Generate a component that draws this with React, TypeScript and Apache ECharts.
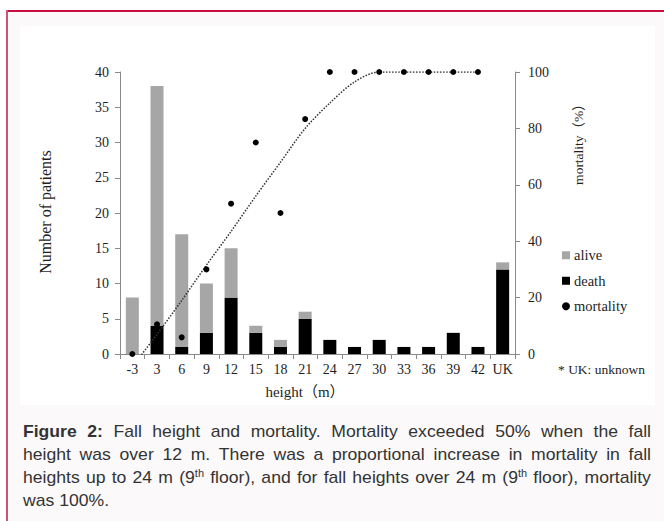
import React, { useEffect, useRef } from "react";
import * as echarts from "echarts";

// ---------- data ----------
const categories = ["-3", "3", "6", "9", "12", "15", "18", "21", "24", "27", "30", "33", "36", "39", "42", "UK"];
const deathCounts = [0, 4, 1, 3, 8, 3, 1, 5, 2, 1, 2, 1, 1, 3, 1, 12];
const aliveCounts = [8, 34, 16, 7, 7, 1, 1, 1, 0, 0, 0, 0, 0, 0, 0, 1];
const mortalityPct: (number | null)[] = [0, 10.5, 5.9, 30, 53.3, 75, 50, 83.3, 100, 100, 100, 100, 100, 100, 100, null];
const trendPct: (number | null)[] = [-4.5, 7, 19, 31.5, 43.5, 56, 68, 80, 89, 96.5, 100, 100, 100, 100, 100, null];
const leftAxisMax = 40;
const leftAxisStep = 5;
const rightAxisMax = 100;
const rightAxisStep = 20;
const legendNames = ["alive", "death", "mortality"];

const captionLines = [
  "**Figure **2: Fall height and mortality. Mortality exceeded 50% when the fall",
  "height was over 12 m. There was a proportional increase in mortality in fall",
  "heights up to 24 m (9^th floor), and for fall heights over 24 m (9^th floor), mortality",
  "was 100%.",
];

// ---------- styles ----------
const SERIF = '"Liberation Serif", "Times New Roman", "DejaVu Serif", "Noto Sans CJK JP", serif';
const SANS = '"Liberation Sans", Arial, "DejaVu Sans", sans-serif';
const AXIS_COLOR = "#8a8a8a";
const TEXT_COLOR = "#1e1e1e";
const CAP_COLOR = "#333333";
const CAP_SIZE = 16;
const CAP_SX = 1.1;
const SUP_SIZE = 10;

type Seg = { t: string; bold?: boolean; sup?: boolean };

function parseWord(w: string): Seg[] {
  const segs: Seg[] = [];
  const i = w.indexOf("^");
  if (i >= 0) {
    segs.push({ t: w.slice(0, i) });
    const supPart = w.slice(i + 1);
    const m = supPart.match(/^([a-z]+)(.*)$/);
    if (m) {
      segs.push({ t: m[1], sup: true });
      if (m[2]) segs.push({ t: m[2] });
    }
    return segs;
  }
  return [{ t: w }];
}

function buildCaption(): any[] {
  const canvas = document.createElement("canvas");
  const ctx = canvas.getContext("2d")!;
  const fontOf = (s: Seg) => `${s.bold ? "bold " : ""}${s.sup ? SUP_SIZE : CAP_SIZE}px ${SANS}`;
  const measure = (s: Seg) => {
    ctx.font = fontOf(s);
    return ctx.measureText(s.t).width * CAP_SX;
  };
  const L = 23;
  const R = 651;
  const ys = [432, 455, 478, 501];
  const out: any[] = [];
  captionLines.forEach((line, li) => {
    let words: Seg[][];
    const boldPrefix = "**Figure **2:";
    if (line.startsWith(boldPrefix)) {
      const rest = line.slice(boldPrefix.length).trim().split(" ");
      words = [[{ t: "Figure", bold: true }], [{ t: "2:", bold: true }], ...rest.map(parseWord)];
    } else {
      words = line.split(" ").map(parseWord);
    }
    const widths = words.map((w) => w.reduce((a, s) => a + measure(s), 0));
    const total = widths.reduce((a, b) => a + b, 0);
    const justify = li < captionLines.length - 1;
    ctx.font = `${CAP_SIZE}px ${SANS}`;
    const gap = justify ? (R - L - total) / (words.length - 1) : ctx.measureText(" ").width * CAP_SX;
    let x = L;
    words.forEach((w, wi) => {
      let sx = x;
      w.forEach((s) => {
        out.push({
          type: "text",
          x: sx,
          y: s.sup ? ys[li] - 5 : ys[li],
          scaleX: CAP_SX,
          z: 10,
          style: {
            text: s.t,
            fontSize: s.sup ? SUP_SIZE : CAP_SIZE,
            fontWeight: s.bold ? "bold" : "normal",
            fontFamily: SANS,
            fill: CAP_COLOR,
            textAlign: "left",
            textVerticalAlign: "middle",
          },
        });
        sx += measure(s);
      });
      x += widths[wi] + gap;
    });
  });
  return out;
}

export default function App() {
  const ref = useRef<HTMLDivElement>(null);
  useEffect(() => {
    if (!ref.current) return;
    const chart = echarts.init(ref.current, undefined, { renderer: "svg" });
    const axisText = { fontFamily: SERIF, fontSize: 14, color: TEXT_COLOR };
    const option: any = {
      animation: false,
      backgroundColor: "#ffffff",
      grid: { left: 120, top: 72, width: 395, height: 282, containLabel: false },
      legend: {
        orient: "vertical",
        left: 557,
        top: 243,
        itemWidth: 8,
        itemHeight: 8,
        itemGap: 11,
        selectedMode: false,
        textStyle: { fontFamily: SERIF, fontSize: 14.5, color: TEXT_COLOR, padding: [0, 0, 0, -1] },
        data: [
          { name: legendNames[0], icon: "rect" },
          { name: legendNames[1], icon: "rect" },
          { name: legendNames[2], icon: "circle" },
        ],
      },
      xAxis: {
        type: "category",
        data: categories,
        boundaryGap: true,
        axisLine: { lineStyle: { color: AXIS_COLOR, width: 1 } },
        axisTick: { show: true, length: 5, interval: 0, lineStyle: { color: AXIS_COLOR } },
        axisLabel: { ...axisText, interval: 0, margin: 8 },
        splitLine: { show: false },
      },
      yAxis: [
        {
          type: "value",
          min: 0,
          max: leftAxisMax,
          interval: leftAxisStep,
          axisLine: { show: true, lineStyle: { color: AXIS_COLOR } },
          axisTick: { show: true, length: 5, lineStyle: { color: AXIS_COLOR } },
          axisLabel: { ...axisText, margin: 11 },
          splitLine: { show: false },
        },
        {
          type: "value",
          min: 0,
          max: rightAxisMax,
          interval: rightAxisStep,
          position: "right",
          axisLine: { show: true, lineStyle: { color: AXIS_COLOR } },
          axisTick: { show: true, length: 5, lineStyle: { color: AXIS_COLOR } },
          axisLabel: { ...axisText, margin: 13 },
          splitLine: { show: false },
        },
      ],
      series: [
        {
          name: "death",
          type: "bar",
          stack: "patients",
          data: deathCounts,
          barWidth: 13,
          itemStyle: { color: "#000000" },
        },
        {
          name: "alive",
          type: "bar",
          stack: "patients",
          data: aliveCounts,
          barWidth: 13,
          itemStyle: { color: "#a6a6a6" },
        },
        {
          name: "trend",
          type: "line",
          yAxisIndex: 1,
          data: trendPct,
          symbol: "none",
          smooth: 0.3,
          clip: true,
          lineStyle: { type: "dotted", width: 1.5, color: "#333333" },
          z: 3,
        },
        {
          name: "mortality",
          type: "scatter",
          yAxisIndex: 1,
          data: mortalityPct,
          symbolSize: 6,
          itemStyle: { color: "#000000", opacity: 1 },
          z: 4,
        },
      ],
      graphic: [
        // frame
        { type: "rect", z: -5, shape: { x: 6, y: 10, width: 700, height: 600 }, style: { fill: "#fbf9fa" } },
        { type: "rect", z: -4, shape: { x: 6, y: 10, width: 700, height: 2 }, style: { fill: "#c8103f" } },
        { type: "rect", z: -4, shape: { x: 6, y: 10, width: 2, height: 600 }, style: { fill: "#c9557b" } },
        { type: "rect", z: -4, shape: { x: 20, y: 26, width: 635, height: 379 }, style: { fill: "#ffffff" } },
        // axis names
        {
          type: "text",
          x: 45,
          y: 212,
          rotation: Math.PI / 2,
          z: 10,
          style: { text: "Number of patients", fontFamily: SERIF, fontSize: 16, fill: TEXT_COLOR, textAlign: "center", textVerticalAlign: "middle" },
        },
        {
          type: "text",
          x: 578,
          y: 141,
          rotation: Math.PI / 2,
          z: 10,
          style: { text: "mortality（%）", fontFamily: SERIF, fontSize: 13.5, fill: TEXT_COLOR, textAlign: "center", textVerticalAlign: "middle" },
        },
        {
          type: "text",
          x: 305,
          y: 392,
          z: 10,
          style: { text: "height（m）", fontFamily: SERIF, fontSize: 15, fill: TEXT_COLOR, textAlign: "center", textVerticalAlign: "middle" },
        },
        {
          type: "text",
          x: 558,
          y: 369,
          z: 10,
          style: { text: "* UK: unknown", fontFamily: SERIF, fontSize: 13.5, fill: TEXT_COLOR, textAlign: "left", textVerticalAlign: "middle" },
        },
        ...buildCaption(),
      ],
    };
    chart.setOption(option);
    return () => chart.dispose();
  }, []);
  return <div ref={ref} style={{ position: "absolute", left: 0, top: 0, width: 664, height: 521 }} />;
}
